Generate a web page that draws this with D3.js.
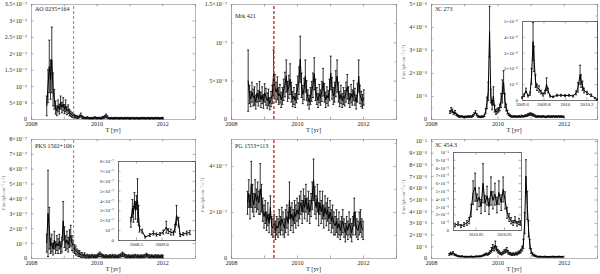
<!DOCTYPE html>
<html>
<head>
<meta charset="utf-8">
<script src="https://cdn.jsdelivr.net/npm/d3@7"></script>
<style>
  body { margin: 0; background: #fff; }
  svg { display: block; }
  text { font-family: "Liberation Serif", "DejaVu Serif", serif; }
</style>
</head>
<body>
<div id="chart"></div>
<script>
// ---- shared axis data ----
var yearTicks = [2008, 2009, 2010, 2011, 2012, 2013];
var yearLabels = ["2008", "", "2010", "", "2012", ""];
var binYr = 0.0385; // two-week bins

// ---- AO 0235+164, flux in 1e-8 ph/cm2/s, [flux, err] per bin ----
var aoStart = 2008.48;
var aoPoints = [[4,3],[10,5],[16,8],[12,6],[18,10],[9,5],[6,3],[3.5,2],[2.5,1.5],[4,1.8],[3,1.5],[5,2],[3.5,1.6],[4.5,2],[3,1.4],[4,1.8],[2.5,1.2],[3,1.3],[2,1],[1.6,0.8],
  [1.2,0.7],[1,0.6],[0.8,0.5],[0.7,0.4],[0.6,0.4],[0.5,0.3],[0.8,0.4],[1.2,0.6],[0.6,0.4],[0.4,0.3],[0.3,0.2],[0.3,0.2],[0.4,0.3],[0.3,0.2],[0.2,0.2],[0.3,0.2],[0.2,0.2],[0.3,0.2],[0.4,0.3],[0.3,0.2],
  [0.2,0.2],[0.3,0.2],[0.3,0.2],[0.2,0.2],[0.4,0.3],[0.5,0.3],[0.7,0.4],[1.0,0.5],[0.6,0.4],[0.3,0.2],[0.2,0.2],[0.3,0.2],[0.2,0.2],[0.2,0.2],[0.3,0.2],[0.2,0.2],[0.3,0.2],[0.2,0.2],[0.2,0.2],[0.3,0.2],
  [0.2,0.2],[0.2,0.2],[0.3,0.2],[0.2,0.2],[0.3,0.2],[0.2,0.2],[0.2,0.2],[0.2,0.2],[0.3,0.2],[0.2,0.2],[0.2,0.2],[0.3,0.2],[0.2,0.2],[0.2,0.2],[0.2,0.2],[0.3,0.2],[0.2,0.2],[0.3,0.2],[0.2,0.2],[0.2,0.2],
  [0.3,0.2],[0.2,0.2],[0.2,0.2],[0.3,0.2],[0.2,0.2],[0.2,0.2],[0.3,0.2],[0.2,0.2],[0.3,0.2],[0.2,0.2],[0.2,0.2],[0.3,0.2],[0.2,0.2]];
var aoTicks = [0, 5, 10, 15, 20, 25, 30, 35];
var aoLabels = ["0", "5×10⁻⁸", "10⁻⁷", "1.5×10⁻⁷", "2×10⁻⁷", "2.5×10⁻⁷", "3×10⁻⁷", "3.5×10⁻⁷"];

// ---- Mrk 421, flux in 1e-8 ----
var mrkStart = 2008.52;
var mrkPoints = [[5,4],[3.2,1.2],[2.6,1],[3.5,1.3],[2.8,1.1],[3,1.2],[2.2,0.9],[3.4,1.2],[2.7,1],[3.6,1.3],
  [2.5,1],[3.1,1.1],[2.3,0.9],[3.4,1.2],[2.9,1.1],[2.4,1],[2.8,1.1],[2,0.8],[2.6,1],[3.2,1.2],
  [6,3],[4.2,1.6],[3.5,1.3],[4,1.5],[3,1.1],[3.3,1.2],[2.5,1],[3,1.1],[3.8,1.4],[4.5,1.6],
  [5.6,2.1],[3.6,1.3],[4.2,1.5],[5.2,2],[3.5,1.3],[2.6,1],[3,1.1],[2.4,0.9],[3.3,1.2],[4.1,1.5],
  [5,1.8],[7.8,3],[4.4,1.6],[3.2,1.2],[3.9,1.4],[5.6,2.1],[3.7,1.3],[2.8,1],[2.2,0.9],[3,1.1],
  [3.6,1.3],[4.4,1.6],[5.9,2.1],[3.8,1.4],[3,1.1],[2.4,0.9],[3.3,1.2],[2.8,1],[3.6,1.3],[4.8,1.8],
  [3.4,1.2],[2.5,1],[3.1,1.1],[2.7,1],[3.8,1.4],[6,2.2],[4,1.4],[3,1.1],[3.5,1.3],[4.6,1.7],
  [5.6,2.1],[3.5,1.3],[2.6,1],[3.2,1.2],[2.4,0.9],[3,1.1],[2.7,1],[3.5,1.3],[4.2,1.6],[3.1,1.1],
  [2.4,0.9],[3.3,1.2],[2.8,1],[3.7,1.3],[2.9,1.1],[2.2,0.9],[3.4,1.2],[5.6,2.1],[3.2,1.2],[2.6,1],
  [2.3,0.9],[2.8,1]];
var mrkTicks = [0, 5, 10, 15];
var mrkLabels = ["0", "5×10⁻⁸", "10⁻⁷", "1.5×10⁻⁷"];
var mrkMinor = [2.5, 7.5, 12.5];

// ---- 3C 273, flux in 1e-6 ----
var c273Start = 2008.57;
var c273Points = [[0.3,0.06],[0.4,0.1],[0.35,0.08],[0.25,0.06],[0.3,0.07],[0.2,0.05],[0.15,0.04],[0.12,0.04],[0.1,0.03],[0.12,0.03],
  [0.1,0.03],[0.08,0.03],[0.1,0.03],[0.09,0.03],[0.11,0.03],[0.1,0.03],[0.12,0.03],[0.1,0.03],[0.15,0.04],[0.22,0.05],
  [0.3,0.06],[0.18,0.05],[0.12,0.04],[0.1,0.03],[0.09,0.03],[0.11,0.03],[0.1,0.03],[0.15,0.04],[0.35,0.1],[0.7,0.25],
  [1.2,0.4],[3.8,1.1],[1,0.3],[0.6,0.2],[1,0.4],[0.45,0.15],[0.3,0.1],[0.35,0.1],[0.4,0.1],[0.5,0.15],
  [0.8,0.3],[1.2,0.5],[1.6,0.5],[0.8,0.3],[0.5,0.15],[0.3,0.08],[0.2,0.05],[0.15,0.04],[0.12,0.04],[0.1,0.03],
  [0.12,0.03],[0.1,0.03],[0.11,0.03],[0.1,0.03],[0.12,0.03],[0.1,0.03],[0.13,0.04],[0.11,0.03],[0.12,0.03],[0.14,0.04],
  [0.15,0.04],[0.18,0.05],[0.2,0.05],[0.22,0.05],[0.2,0.05],[0.18,0.05],[0.15,0.04],[0.12,0.04],[0.1,0.03],[0.12,0.03],
  [0.1,0.03],[0.11,0.03],[0.1,0.03],[0.12,0.03],[0.1,0.03],[0.09,0.03],[0.1,0.03],[0.12,0.03],[0.1,0.03],[0.11,0.03],
  [0.1,0.03],[0.12,0.03],[0.1,0.03],[0.11,0.03],[0.1,0.03],[0.12,0.03],[0.1,0.03],[0.11,0.03],[0.1,0.03],[0.1,0.03]];
var c273Ticks = [0, 1, 2, 3, 4, 5];
var c273Labels = ["0", "10⁻⁶", "2×10⁻⁶", "3×10⁻⁶", "4×10⁻⁶", "5×10⁻⁶"];
var c273Minor = [0.5, 1.5, 2.5, 3.5, 4.5];
// inset: zoom on the 2009.6-2010.3 flares
var c273InsetTimes = [2009.600,2009.619,2009.637,2009.656,2009.675,2009.689,2009.703,2009.712,2009.726,2009.740,
  2009.759,2009.778,2009.796,2009.815,2009.829,2009.843,2009.862,2009.890,2009.927,2009.964,
  2010.002,2010.039,2010.077,2010.105,2010.123,2010.142,2010.151,2010.165,2010.179,2010.207,
  2010.245,2010.282,2010.300];
var c273InsetPoints = [[0.15,0.04],[0.3,0.08],[0.6,0.15],[0.25,0.06],[0.4,0.1],[1.5,0.5],[3.7,1.2],[2.6,0.8],[1.2,0.4],[0.8,0.2],
  [0.7,0.2],[0.5,0.12],[0.35,0.1],[0.5,0.12],[1,0.4],[0.6,0.15],[0.25,0.06],[0.2,0.05],[0.3,0.06],[0.3,0.06],
  [0.28,0.06],[0.3,0.06],[0.25,0.06],[0.45,0.12],[0.8,0.3],[1.6,0.6],[1.2,0.4],[0.9,0.3],[0.6,0.15],[0.45,0.1],
  [0.3,0.08],[0.12,0.04],[0.03,0.02]];
var c273InsetXTicks = [2009.6, 2009.8, 2010, 2010.2];
var c273InsetXLabels = ["2009.6", "2009.8", "2010", "2010.2"];

// ---- PKS 1502+106, flux in 1e-7 ----
var pksStart = 2008.48;
var pksPoints = [[1,0.6],[3,2.9],[2,1.4],[0.8,0.5],[1,0.6],[0.6,0.4],[1.2,0.6],[0.7,0.4],[1,0.5],[0.8,0.5],
  [1.1,0.5],[0.7,0.4],[0.9,0.5],[2.5,1.3],[1.4,0.7],[1,0.5],[1.2,0.6],[0.9,0.5],[1.3,0.6],[1.5,0.7],
  [1,0.5],[0.8,0.4],[0.6,0.3],[0.5,0.3],[0.4,0.2],[0.3,0.2],[0.3,0.2],[0.2,0.15],[0.2,0.15],[0.15,0.1],
  [0.2,0.15],[0.1,0.1],[0.15,0.1],[0.1,0.1],[0.12,0.1],[0.1,0.08],[0.15,0.1],[0.1,0.08],[0.12,0.1],[0.1,0.08],
  [0.15,0.1],[0.2,0.12],[0.25,0.15],[0.2,0.12],[0.15,0.1],[0.12,0.1],[0.1,0.08],[0.12,0.1],[0.1,0.08],[0.1,0.08],
  [0.12,0.1],[0.1,0.08],[0.15,0.1],[0.1,0.08],[0.12,0.1],[0.1,0.08],[0.1,0.08],[0.12,0.1],[0.15,0.1],[0.2,0.12],
  [0.25,0.15],[0.2,0.12],[0.15,0.1],[0.12,0.1],[0.1,0.08],[0.12,0.1],[0.1,0.08],[0.1,0.08],[0.12,0.1],[0.1,0.08],
  [0.15,0.1],[0.1,0.08],[0.12,0.1],[0.1,0.08],[0.1,0.08],[0.12,0.1],[0.1,0.08],[0.12,0.1],[0.15,0.1],[0.2,0.12],
  [0.15,0.1],[0.12,0.1],[0.1,0.08],[0.12,0.1],[0.1,0.08],[0.1,0.08],[0.12,0.1],[0.1,0.08],[0.12,0.1],[0.1,0.08],
  [0.1,0.08],[0.12,0.1],[0.1,0.08]];
var pksTicks = [0, 1, 2, 3, 4, 5, 6, 7, 8];
var pksLabels = ["0", "10⁻⁷", "2×10⁻⁷", "3×10⁻⁷", "4×10⁻⁷", "5×10⁻⁷", "6×10⁻⁷", "7×10⁻⁷", "8×10⁻⁷"];
var pksInsetTimes = [2008.40,2008.43,2008.45,2008.47,2008.49,2008.51,2008.53,2008.55,2008.57,2008.62,
  2008.68,2008.77,2008.84,2008.90,2008.97,2009.03,2009.09,2009.13,2009.18,2009.23,
  2009.26,2009.29,2009.33,2009.36,2009.42,2009.49,2009.55];
var pksInsetPoints = [[1.8,0.5],[3.2,0.9],[2.6,0.8],[4,0.8],[3,0.9],[3.8,0.7],[4,2.2],[2.5,1],[1.1,0.3],[0.9,0.2],
  [0.3,0.1],[0.5,0.15],[0.7,0.2],[0.55,0.15],[0.6,0.15],[0.8,0.2],[1.3,0.6],[0.9,0.25],[0.8,0.3],[0.7,0.2],
  [1.2,0.4],[2.5,1],[1.8,0.5],[0.5,0.15],[0.6,0.15],[0.7,0.2],[0.75,0.2]];
var pksInsetXTicks = [2008.5, 2009];
var pksInsetXLabels = ["2008.5", "2009.0"];

// ---- PG 1553+113, flux in 1e-7 ----
var pgStart = 2008.50;
var pgPoints = [[2.4,0.5],[2.8,0.6],[2.2,0.5],[3.2,1],[2.6,0.6],[2.3,0.5],[2.8,0.6],[2.5,0.5],[2.7,0.6],[2.4,0.5],
  [3,1.1],[2.6,0.6],[2.1,0.5],[1.8,0.5],[2,0.5],[1.6,0.4],[1.9,0.5],[1.5,0.4],[2.2,0.5],[1.4,0.4],
  [1.3,0.4],[1.5,0.4],[1.2,0.4],[1.4,0.4],[1.3,0.4],[1.6,0.5],[1.4,0.4],[1.7,0.5],[1.5,0.5],[1.3,0.4],
  [1.6,0.5],[1.8,0.5],[1.5,0.5],[2.5,0.8],[1.7,0.5],[1.9,0.5],[1.6,0.5],[2,0.5],[1.8,0.5],[2.1,0.5],
  [1.9,0.5],[2.2,0.5],[2.4,0.5],[2,0.5],[2.5,0.5],[2.2,0.5],[2.6,0.6],[2.1,0.5],[2.4,0.5],[2,0.5],
  [2.3,0.5],[2.7,0.6],[3.4,0.9],[2.5,0.6],[2.2,0.5],[2.6,0.6],[1.9,0.5],[2.4,0.5],[2,0.5],[2.3,0.6],
  [1.8,0.5],[2.2,0.5],[1.9,0.5],[2.1,0.5],[1.7,0.5],[2,0.5],[1.6,0.5],[1.8,0.5],[1.5,0.5],[1.4,0.4],
  [1.6,0.5],[1.3,0.4],[1.5,0.5],[1.2,0.4],[1.4,0.4],[1.6,0.5],[1.3,0.4],[1.1,0.4],[1.4,0.4],[1.2,0.4],
  [1.5,0.5],[1.3,0.4],[1.1,0.4],[1.4,0.4],[2,0.6],[1.5,0.5],[1.3,0.4],[1.2,0.4],[1.5,0.5],[1.6,0.5],
  [1.3,0.4],[1.2,0.4]];
var pgTicks = [0, 2, 4];
var pgLabels = ["0", "2×10⁻⁷", "4×10⁻⁷"];
var pgMinor = [1, 3, 5];

// ---- 3C 454.3, flux in 1e-6 ----
var c454Start = 2008.55;
var c454Points = [[0.3,0.08],[0.4,0.1],[0.35,0.08],[0.45,0.1],[0.3,0.07],[0.25,0.06],[0.2,0.05],[0.15,0.04],[0.15,0.04],[0.12,0.04],
  [0.15,0.04],[0.12,0.03],[0.1,0.03],[0.12,0.03],[0.1,0.03],[0.12,0.03],[0.1,0.03],[0.13,0.04],[0.11,0.03],[0.1,0.03],
  [0.12,0.03],[0.14,0.04],[0.12,0.03],[0.15,0.04],[0.13,0.04],[0.16,0.04],[0.2,0.05],[0.25,0.06],[0.3,0.07],[0.35,0.08],
  [0.3,0.07],[0.4,0.1],[0.5,0.12],[0.7,0.2],[0.9,0.25],[0.8,0.2],[1.1,0.35],[0.8,0.2],[0.6,0.15],[0.5,0.12],
  [0.4,0.1],[0.35,0.1],[0.45,0.12],[0.55,0.15],[0.6,0.15],[0.7,0.2],[0.5,0.15],[0.4,0.1],[0.35,0.1],[0.3,0.08],
  [0.35,0.1],[0.3,0.08],[0.4,0.1],[0.35,0.1],[0.45,0.12],[0.5,0.12],[0.6,0.15],[0.8,0.2],[1.2,0.4],[3,0.9],
  [7,1.4],[4.5,1.2],[2.5,0.7],[1.2,0.4],[0.6,0.2],[0.35,0.1],[0.25,0.08],[0.2,0.06],[0.15,0.05],[0.12,0.04],
  [0.1,0.03],[0.12,0.04],[0.1,0.03],[0.11,0.03],[0.1,0.03],[0.12,0.04],[0.1,0.03],[0.09,0.03],[0.1,0.03],[0.11,0.03],
  [0.1,0.03],[0.12,0.04],[0.1,0.03],[0.1,0.03],[0.11,0.03],[0.1,0.03],[0.12,0.04],[0.1,0.03],[0.1,0.03],[0.11,0.03]];
var c454Ticks = [0,1,2,3,4,5,6,7,8,9,10];
var c454Labels = ["0","10⁻⁶","2×10⁻⁶","3×10⁻⁶","4×10⁻⁶","5×10⁻⁶","6×10⁻⁶","7×10⁻⁶","8×10⁻⁶","9×10⁻⁶","10⁻⁵"];
var c454InsetTimes = [2010.777,2010.788,2010.798,2010.809,2010.819,2010.827,2010.834,2010.841,2010.848,2010.855,
  2010.862,2010.869,2010.876,2010.883,2010.890,2010.897,2010.904,2010.911,2010.918,2010.925,
  2010.932,2010.940,2010.947,2010.954,2010.961,2010.968,2010.975,2010.982,2010.989,2010.996,
  2011.003,2011.008];
var c454InsetPoints = [[0.6,0.2],[0.8,0.25],[0.5,0.2],[0.7,0.25],[0.9,0.3],[1.2,0.4],[2.5,0.8],[4.8,1.5],[5.5,1.8],[3.6,1],
  [4.2,1.2],[3,0.9],[6,2.5],[3.4,1],[4.4,1.2],[3,1],[5,1.8],[3.8,1.1],[4.6,1.4],[3.2,1],
  [4.8,1.5],[3.5,1],[5.2,1.6],[3.8,1.1],[2.2,0.7],[1.6,0.5],[1.2,0.4],[0.9,0.3],[1.3,0.4],[0.8,0.3],
  [1.1,0.4],[0.9,0.3]];
var c454InsetXTicks = [2010.85, 2010.95];
var c454InsetXLabels = ["2010.85", "2010.95"];

var redLineYear = 2009.3;

// ---- drawing ----
var svg = d3.select("#chart").append("svg").attr("width", 600).attr("height", 274);

function binned(start, pts) {
  return pts.map(function(p, i) { return {t: start + i * binYr, f: p[0], e: p[1]}; });
}
function timed(times, pts) {
  return pts.map(function(p, i) { return {t: times[i], f: p[0], e: p[1]}; });
}

function styleAxis(sel, fs) {
  sel.attr("font-size", fs).attr("font-family", null);
  sel.select(".domain").attr("stroke", "#999").attr("stroke-width", 0.7);
  sel.selectAll(".tick line").attr("stroke", "#777").attr("stroke-width", 0.6);
  sel.selectAll(".tick text").attr("fill", "#222");
}

function axes(g, x, y, o) {
  var x0 = x.range()[0], x1 = x.range()[1], y0 = y.range()[0], y1 = y.range()[1];
  var fs = o.fs || 6;
  g.append("g").attr("transform", "translate(" + x0 + ",0)")
    .call(d3.axisLeft(y).tickValues(o.yTicks).tickFormat(function(d, i) { return o.yLabels[i]; })
      .tickSizeInner(-2.5).tickSizeOuter(0).tickPadding(4))
    .call(styleAxis, fs);
  g.append("g").attr("transform", "translate(" + x1 + ",0)")
    .call(d3.axisRight(y).tickValues(o.yTicks).tickFormat("").tickSizeInner(-2.5).tickSizeOuter(0))
    .call(styleAxis, fs);
  if (o.yMinor) {
    g.append("g").attr("transform", "translate(" + x0 + ",0)")
      .call(d3.axisLeft(y).tickValues(o.yMinor).tickFormat("").tickSizeInner(-1.5).tickSizeOuter(0))
      .call(styleAxis, fs);
    g.append("g").attr("transform", "translate(" + x1 + ",0)")
      .call(d3.axisRight(y).tickValues(o.yMinor).tickFormat("").tickSizeInner(-1.5).tickSizeOuter(0))
      .call(styleAxis, fs);
  }
  g.append("g").attr("transform", "translate(0," + y0 + ")")
    .call(d3.axisBottom(x).tickValues(o.xTicks).tickFormat(function(d, i) { return o.xLabels[i]; })
      .tickSizeInner(-2.5).tickSizeOuter(0).tickPadding(3))
    .call(styleAxis, fs);
  g.append("g").attr("transform", "translate(0," + y1 + ")")
    .call(d3.axisTop(x).tickValues(o.xTicks).tickFormat("").tickSizeInner(-2.5).tickSizeOuter(0))
    .call(styleAxis, fs);
}

function curve(g, x, y, data) {
  var bars = g.append("g").attr("stroke", "#000").attr("stroke-width", 0.8);
  bars.selectAll("line.eb").data(data).enter().append("line").attr("class", "eb")
    .attr("x1", function(d) { return x(d.t); }).attr("x2", function(d) { return x(d.t); })
    .attr("y1", function(d) { return y(Math.max(0, d.f - d.e)); })
    .attr("y2", function(d) { return y(d.f + d.e); });
  bars.selectAll("line.capT").data(data).enter().append("line").attr("class", "capT")
    .attr("x1", function(d) { return x(d.t) - 1; }).attr("x2", function(d) { return x(d.t) + 1; })
    .attr("y1", function(d) { return y(d.f + d.e); }).attr("y2", function(d) { return y(d.f + d.e); });
  bars.selectAll("line.capB").data(data).enter().append("line").attr("class", "capB")
    .attr("x1", function(d) { return x(d.t) - 1; }).attr("x2", function(d) { return x(d.t) + 1; })
    .attr("y1", function(d) { return y(Math.max(0, d.f - d.e)); })
    .attr("y2", function(d) { return y(Math.max(0, d.f - d.e)); });
  g.append("path").datum(data)
    .attr("fill", "none").attr("stroke", "#000").attr("stroke-width", 1)
    .attr("d", d3.line().x(function(d) { return x(d.t); }).y(function(d) { return y(d.f); }));
}

var cols = [[31, 195], [231, 396], [431, 597]];
var rows = [[4, 119], [139, 258]];

var panels = [
  {col: 0, row: 0, name: "AO 0235+164", nameDy: 6, data: binned(aoStart, aoPoints), yMax: 35,
   yTicks: aoTicks, yLabels: aoLabels, red: [0.9, "#e65050"]},
  {col: 1, row: 0, name: "Mrk 421", nameDy: 13, data: binned(mrkStart, mrkPoints), yMax: 15,
   yTicks: mrkTicks, yLabels: mrkLabels, yMinor: mrkMinor, red: [1.4, "#d42a2a"]},
  {col: 2, row: 0, name: "3C 273", nameDy: 6, data: binned(c273Start, c273Points), yMax: 5,
   yTicks: c273Ticks, yLabels: c273Labels, yMinor: c273Minor, title: [404, 62],
   inset: {x: [522, 597], y: [21, 100], xDomain: [2009.6, 2010.3], yMax: 5,
     data: timed(c273InsetTimes, c273InsetPoints), yTicks: c273Ticks, yLabels: c273Labels,
     xTicks: c273InsetXTicks, xLabels: c273InsetXLabels}},
  {col: 0, row: 1, name: "PKS 1502+106", nameDy: 8, data: binned(pksStart, pksPoints), yMax: 8,
   yTicks: pksTicks, yLabels: pksLabels, red: [0.9, "#e65050"], title: [4, 193],
   inset: {x: [118, 195], y: [161, 240], xDomain: [2008.15, 2009.65], yMax: 8,
     data: timed(pksInsetTimes, pksInsetPoints), yTicks: pksTicks, yLabels: pksLabels,
     xTicks: pksInsetXTicks, xLabels: pksInsetXLabels}},
  {col: 1, row: 1, name: "PG 1553+113", nameDy: 8, data: binned(pgStart, pgPoints), yMax: 5.17,
   yTicks: pgTicks, yLabels: pgLabels, yMinor: pgMinor, red: [1.4, "#d42a2a"], title: [203, 195]},
  {col: 2, row: 1, name: "3C 454.3", nameDy: 7, data: binned(c454Start, c454Points), yMax: 10.17,
   yTicks: c454Ticks, yLabels: c454Labels, title: [404, 197],
   inset: {x: [453, 521], y: [152, 230], xDomain: [2010.77, 2011.01], yMax: 10,
     data: timed(c454InsetTimes, c454InsetPoints), yTicks: c454Ticks, yLabels: c454Labels,
     xTicks: c454InsetXTicks, xLabels: c454InsetXLabels, fs: 4.5}}
];

panels.forEach(function(p) {
  var g = svg.append("g");
  var x = d3.scaleLinear().domain([2008, 2013]).range(cols[p.col]);
  var y = d3.scaleLinear().domain([0, p.yMax]).range([rows[p.row][1], rows[p.row][0]]);

  axes(g, x, y, {yTicks: p.yTicks, yLabels: p.yLabels, yMinor: p.yMinor, xTicks: yearTicks, xLabels: yearLabels});
  curve(g, x, y, p.data);

  if (p.red) {
    g.append("line")
      .attr("x1", x(redLineYear)).attr("x2", x(redLineYear))
      .attr("y1", y.range()[0]).attr("y2", y.range()[1])
      .attr("stroke", p.red[1]).attr("stroke-width", p.red[0]).attr("stroke-dasharray", "3,2");
  }

  g.append("text").attr("x", cols[p.col][0] + 4).attr("y", rows[p.row][0] + p.nameDy)
    .attr("font-size", 6).attr("fill", "#222").attr("dominant-baseline", "middle").text(p.name);

  g.append("text").attr("x", (cols[p.col][0] + cols[p.col][1]) / 2).attr("y", rows[p.row][1] + 13)
    .attr("font-size", 6.5).attr("fill", "#222").attr("text-anchor", "middle").text("T [yr]");

  if (p.title) {
    g.append("text").attr("transform", "translate(" + p.title[0] + "," + p.title[1] + ") rotate(-90)")
      .attr("font-size", 4.5).attr("fill", "#777").attr("text-anchor", "middle")
      .attr("dominant-baseline", "middle").text("Flux [ph cm⁻² s⁻¹]");
  }

  if (p.inset) {
    var q = p.inset;
    var gi = g.append("g");
    gi.append("rect").attr("x", q.x[0]).attr("y", q.y[0])
      .attr("width", q.x[1] - q.x[0]).attr("height", q.y[1] - q.y[0]).attr("fill", "#fff");
    var xi = d3.scaleLinear().domain(q.xDomain).range(q.x);
    var yi = d3.scaleLinear().domain([0, q.yMax]).range([q.y[1], q.y[0]]);
    axes(gi, xi, yi, {yTicks: q.yTicks, yLabels: q.yLabels, xTicks: q.xTicks, xLabels: q.xLabels, fs: q.fs || 4.8});
    gi.selectAll(".domain").attr("stroke", "#333");
    curve(gi, xi, yi, q.data);
  }
});
</script>
</body>
</html>
